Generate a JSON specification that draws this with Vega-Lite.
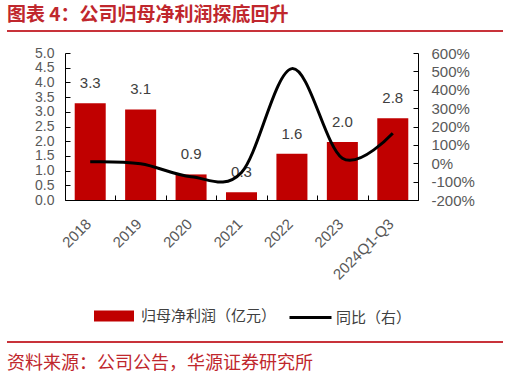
{
  "$schema": "https://vega.github.io/schema/vega-lite/v6.json",
  "padding": {"left": 5, "top": 6, "right": 5, "bottom": 0},
  "spacing": 14,
  "config": {
    "view": {"stroke": null},
    "axis": {"domainColor": "#000000", "tickColor": "#000000", "labelColor": "#595959", "labelFont": "Liberation Sans", "labelFontSize": 15, "grid": false, "title": null, "labelOverlap": false}
  },
  "vconcat": [
    {
      "width": 438,
      "height": 25,
      "data": {"values": [{"x": 0, "x2": 1, "y": 0, "ty": 1, "text": "图表 4：公司归母净利润探底回升"}]},
      "layer": [
        {
          "mark": {"type": "rule", "color": "#C8323A", "strokeWidth": 2},
          "encoding": {
            "x": {"field": "x", "type": "quantitative", "scale": {"domain": [0.11694, 1], "zero": false, "nice": false}, "axis": null},
            "x2": {"field": "x2"},
            "y": {"field": "y", "type": "quantitative", "scale": {"domain": [0, 1]}, "axis": null}
          }
        },
        {
          "mark": {"type": "text", "align": "left", "baseline": "top", "color": "#C0272D", "fontSize": 19, "fontWeight": "bold", "font": "Noto Sans CJK SC"},
          "encoding": {
            "x": {"field": "x", "type": "quantitative"},
            "y": {"field": "ty", "type": "quantitative"},
            "text": {"field": "text"}
          }
        }
      ]
    },
    {
      "width": 353,
      "height": 147,
      "data": {"values": [
        {"year": "2018", "profit": 3.29, "yoy": 8},
        {"year": "2019", "profit": 3.08, "yoy": -3},
        {"year": "2020", "profit": 0.87, "yoy": -73},
        {"year": "2021", "profit": 0.26, "yoy": -50},
        {"year": "2022", "profit": 1.57, "yoy": 515},
        {"year": "2023", "profit": 1.97, "yoy": 27},
        {"year": "2024Q1-Q3", "profit": 2.78, "yoy": 163}
      ]},
      "encoding": {
        "x": {
          "field": "year", "type": "nominal", "sort": null,
          "scale": {"paddingInner": 0, "paddingOuter": 0},
          "axis": {"tickBand": "extent", "labelAngle": -45, "tickSize": -5, "labelPadding": 21, "labelOffset": -7}
        }
      },
      "layer": [
        {
          "encoding": {
            "y": {
              "field": "profit", "type": "quantitative",
              "scale": {"domain": [0, 5]},
              "axis": {"orient": "left", "values": [0, 0.5, 1, 1.5, 2, 2.5, 3, 3.5, 4, 4.5, 5], "format": ".1f", "labelOverlap": false, "labelFontSize": 14, "tickSize": -5, "labelPadding": 16, "minExtent": 58, "maxExtent": 58}
            }
          },
          "layer": [
            {
              "mark": {"type": "bar", "width": {"band": 0.615}},
              "encoding": {
                "fill": {
                  "datum": "归母净利润（亿元）",
                  "scale": {"range": ["#C00000"]},
                  "legend": {"orient": "none", "legendX": 29, "legendY": 290, "title": null, "symbolType": "M-1,-0.27H1V0.27H-1Z", "symbolSize": 1600, "symbolStrokeWidth": 0, "labelFont": "Noto Sans CJK SC", "labelFontSize": 15, "labelColor": "#404040", "labelOffset": 7, "padding": 0}
                }
              }
            },
            {
              "mark": {"type": "text", "dy": -20, "baseline": "middle", "color": "#404040", "fontSize": 15, "font": "Liberation Sans"},
              "encoding": {
                "text": {"field": "profit", "format": ".1f"}
              }
            }
          ]
        },
        {
          "mark": {"type": "line", "interpolate": "cardinal", "tension": 0, "strokeWidth": 3},
          "encoding": {
            "y": {
              "field": "yoy", "type": "quantitative",
              "scale": {"domain": [-200, 600]},
              "axis": {"orient": "right", "values": [-200, -100, 0, 100, 200, 300, 400, 500, 600], "labelExpr": "datum.value + '%'", "labelOverlap": false, "tickSize": -5, "labelPadding": 18}
            },
            "stroke": {
              "datum": "同比（右）",
              "scale": {"range": ["#000000"]},
              "legend": {"orient": "none", "legendX": 223, "legendY": 289, "title": null, "symbolType": "M-1,0H1", "symbolSize": 1764, "symbolStrokeWidth": 3, "labelFont": "Noto Sans CJK SC", "labelFontSize": 15, "labelColor": "#404040", "labelOffset": 3, "padding": 0}
            }
          }
        }
      ],
      "resolve": {"scale": {"y": "independent"}}
    },
    {
      "width": 438,
      "height": 64,
      "data": {"values": [{"x": 0, "x2": 1, "y": 1, "ty": 0, "text": "资料来源：公司公告，华源证券研究所"}]},
      "layer": [
        {
          "mark": {"type": "rule", "color": "#C8323A", "strokeWidth": 2},
          "encoding": {
            "x": {"field": "x", "type": "quantitative", "scale": {"domain": [0.11694, 1], "zero": false, "nice": false}, "axis": null},
            "x2": {"field": "x2"},
            "y": {"field": "y", "type": "quantitative", "scale": {"domain": [0, 3.368], "zero": false, "nice": false}, "axis": null}
          }
        },
        {
          "mark": {"type": "text", "align": "left", "baseline": "middle", "dy": 3, "color": "#C0272D", "fontSize": 18, "font": "Noto Sans CJK SC"},
          "encoding": {
            "x": {"field": "x", "type": "quantitative"},
            "y": {"field": "ty", "type": "quantitative"},
            "text": {"field": "text"}
          }
        }
      ]
    }
  ]
}
